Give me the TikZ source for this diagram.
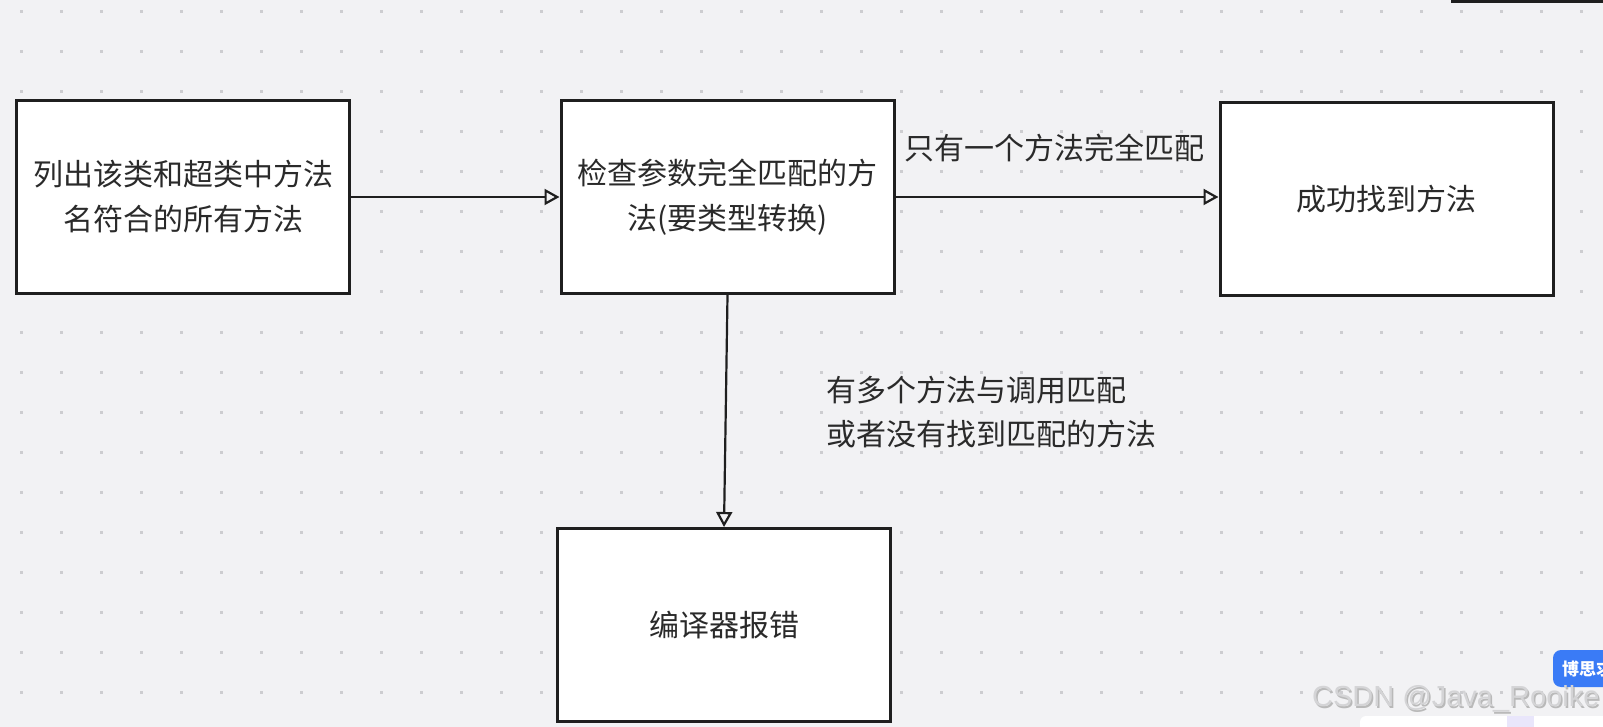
\documentclass[tikz,border=0pt]{standalone}
\usepackage{fontspec}
\newfontfamily\cjk{Noto Sans CJK SC}
\setsansfont{Liberation Sans}
\usetikzlibrary{arrows.meta}
\definecolor{bg}{HTML}{F2F2F4}
\definecolor{dotc}{HTML}{CDCDD0}
\definecolor{edge}{HTML}{1F1F1F}
\definecolor{txt}{HTML}{2A2A2A}
\definecolor{btn}{HTML}{3A7BF6}
\definecolor{wm}{HTML}{D4D4D6}
\definecolor{tool}{HTML}{E9E6FB}
\begin{document}
\begin{tikzpicture}[x=1pt,y=-1pt,
  box/.style={draw=edge, line width=3pt, fill=white, inner sep=0pt,
    minimum width=333pt, minimum height=193pt, align=center,
    font=\cjk\fontsize{30}{45}\selectfont, text=txt},
  lbl/.style={font=\cjk\fontsize{30}{44}\selectfont, text=txt, inner sep=0pt, align=left},
  conn/.style={draw=edge, line width=2.2pt, -{Triangle[open, length=15pt, width=16pt, line width=2.2pt]}}]
\useasboundingbox (0,0) rectangle (1603,727);
\clip (0,0) rectangle (1603,727);
\fill[bg] (0,0) rectangle (1603,727);
% dot grid
\foreach \i in {0,...,39} {
  \foreach \j in {0,...,18} {
    \fill[dotc] ({21+40*\i-1.5},{12+40*\j-1.5}) rectangle ++(3,3);
  }
}
% top-right bar
\fill[edge] (1451,0) rectangle (1603,3);
% boxes
\node[box] (b1) at (183,197) {列出该类和超类中方法\\名符合的所有方法};
\node[box] (b2) at (727.5,197) {检查参数完全匹配的方\\法(要类型转换)};
\node[box] (b3) at (1386.5,199) {成功找到方法};
\node[box] (b4) at (724,625) {编译器报错};
% connectors
\draw[conn] (b1.east) -- (b2.west);
\draw[conn] (b2.east) -- (b3.west |- b2.east);
\draw[conn] (b2.south) -- (b4.north);
% labels
\node[lbl, anchor=west] (l1) at (904,148) {只有一个方法完全匹配};
\node[lbl, anchor=west] (l2) at (826,412) {有多个方法与调用匹配\\或者没有找到匹配的方法};
% UI leftovers
\fill[btn, rounded corners=8pt] (1553,650) rectangle (1620,687);
\node[font=\cjk\bfseries\fontsize{17}{17}\selectfont, text=white, anchor=west, inner sep=0pt] (bt) at (1562,669) {博思求};
\fill[white, rounded corners=6pt] (1360,716) rectangle (1620,740);
\fill[tool] (1507,716) rectangle (1534,727);
\node[font=\sffamily\fontsize{29}{29}\selectfont, text=gray!55, anchor=west, inner sep=0pt] (wm2) at (1313.5,700.5) {CSDN @Java\_Rooike};
\node[font=\sffamily\fontsize{29}{29}\selectfont, text=wm, anchor=west, inner sep=0pt] (wm) at (1312,699) {CSDN @Java\_Rooike};
\end{tikzpicture}
\end{document}
